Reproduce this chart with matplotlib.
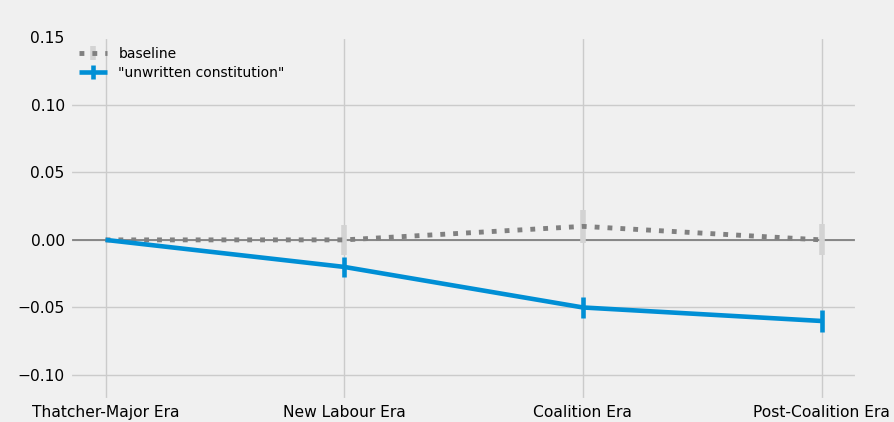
import numpy as np
import matplotlib
import matplotlib.pyplot as plt

matplotlib.use("agg")
plt.style.use("fivethirtyeight")

eras = ["Thatcher-Major Era", "New Labour Era", "Coalition Era", "Post-Coalition Era"]
baseline = [0.0, 0.0, 0.01, 0.0]
baseline_err = [0.0, 0.011, 0.012, 0.0115]
unwritten = [0.0, -0.02, -0.05, -0.06]
unwritten_err = [0.0, 0.0075, 0.0078, 0.008]

fig, ax = plt.subplots(figsize=(8.94, 4.22), dpi=100)
fig.subplots_adjust(left=0.078, right=0.959, top=0.912, bottom=0.052)
fig.patch.set_facecolor("#f0f0f0")
ax.set_facecolor("#f0f0f0")

x = np.arange(len(eras))
ax.axhline(0, color="grey", lw=1.3, zorder=1)
ax.errorbar(x, baseline, yerr=baseline_err, color="grey", ls=":", lw=3.5,
            ecolor="#d3d3d3", elinewidth=4, capsize=0, label="baseline", zorder=2)
ax.errorbar(x, unwritten, yerr=unwritten_err, color="#008fd5", lw=3.3,
            elinewidth=3.3, capsize=0, label='"unwritten constitution"', zorder=3)

ax.set_xticks(x)
ax.set_xticklabels(eras)
ax.set_xlim(-0.15, 3.15)
ax.set_ylim(-0.1185, 0.15)
ax.set_yticks([-0.10, -0.05, 0.0, 0.05, 0.10, 0.15])
ax.tick_params(labelsize=11.2)
ax.grid(color="#cbcbcb", lw=1)
ax.legend(loc="upper left", frameon=False, fontsize=10, handlelength=2.0,
          borderaxespad=0.3, labelspacing=0.35)

fig.savefig("out.png", dpi=100, facecolor=fig.get_facecolor())
